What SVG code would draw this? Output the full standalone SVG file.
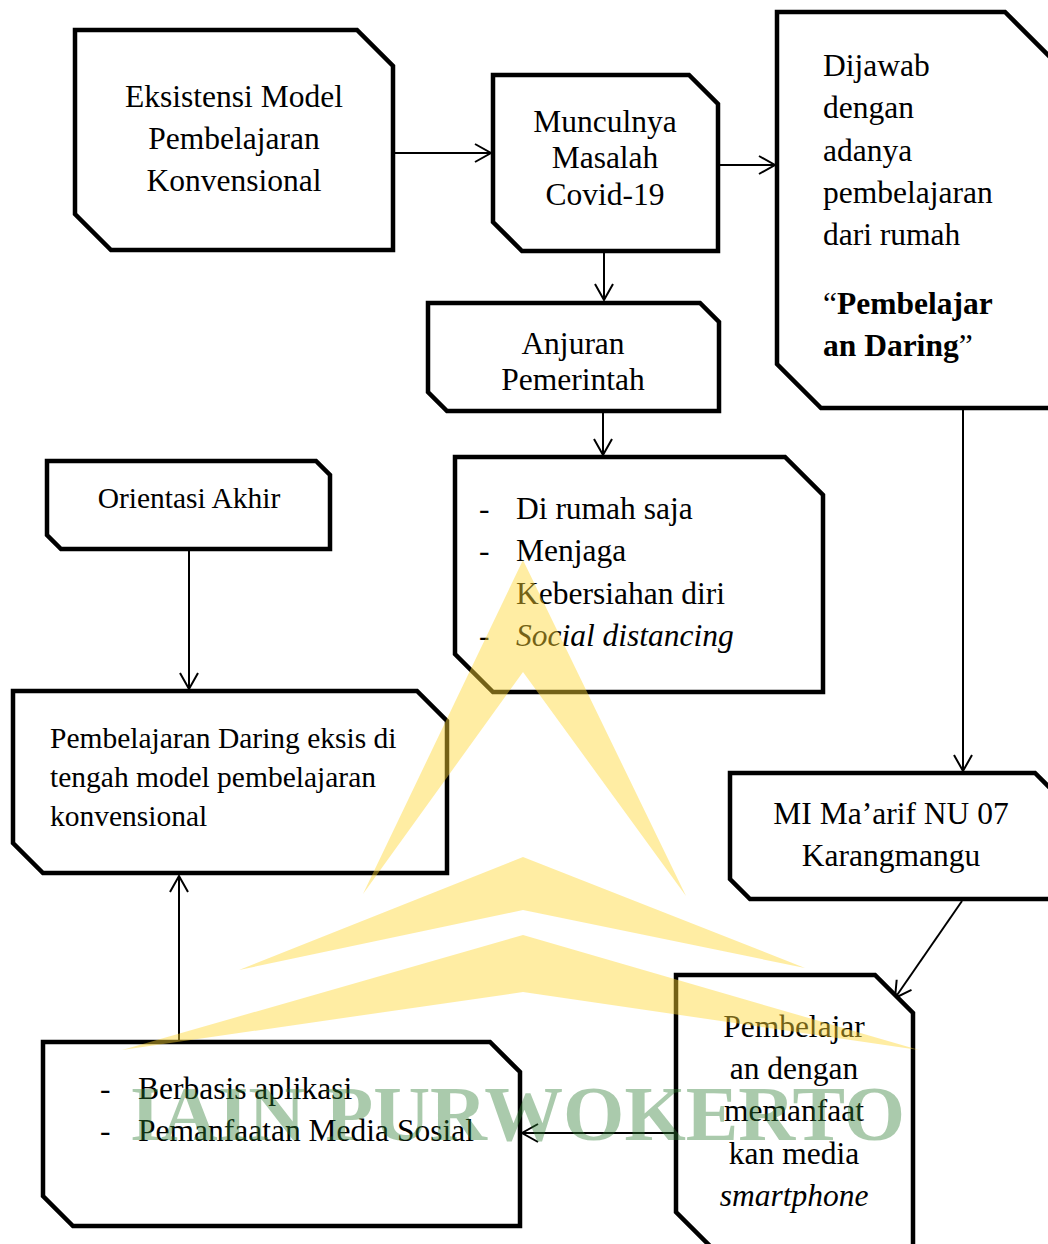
<svg xmlns="http://www.w3.org/2000/svg" width="1048" height="1244" viewBox="0 0 1048 1244">
<style>
.box{fill:#fff;stroke:#000;stroke-width:4.5;stroke-linejoin:miter}
.t{font-family:"Liberation Serif","Times New Roman",serif;font-size:31.5px;fill:#000}
.s{font-size:29.5px}
.c{text-anchor:middle}
.b{font-weight:bold}
.i{font-style:italic}
.edge{fill:none;stroke:#000;stroke-width:2}
.wm{fill:#FFD633;opacity:0.45}
.wmt{font-family:"Liberation Serif","Times New Roman",serif;font-weight:bold;font-size:78px;fill:#2E7D32;opacity:0.4}
</style>
<defs>
<marker id="arr" markerUnits="userSpaceOnUse" markerWidth="24" markerHeight="24" viewBox="-20 -12 24 24" refX="0" refY="0" orient="auto">
<path d="M-16,-9 L0,0 L-16,9" fill="none" stroke="#000" stroke-width="2"/>
</marker>
</defs>
<rect width="1048" height="1244" fill="#fff"/>
<g id="connectors">
<line class="edge" x1="395" y1="153" x2="491" y2="153" marker-end="url(#arr)"/>
<line class="edge" x1="720" y1="165" x2="775" y2="165" marker-end="url(#arr)"/>
<line class="edge" x1="604" y1="253" x2="604" y2="300" marker-end="url(#arr)"/>
<line class="edge" x1="603" y1="413" x2="603" y2="455" marker-end="url(#arr)"/>
<line class="edge" x1="963" y1="410" x2="963" y2="771" marker-end="url(#arr)"/>
<line class="edge" x1="189" y1="551" x2="189" y2="689" marker-end="url(#arr)"/>
<line class="edge" x1="962" y1="901" x2="895" y2="998" marker-end="url(#arr)"/>
<line class="edge" x1="674" y1="1133" x2="522" y2="1133" marker-end="url(#arr)"/>
<line class="edge" x1="179" y1="1040" x2="179" y2="876" marker-end="url(#arr)"/>
</g>
<g id="n-eksistensi">
<path class="box" d="M75,30 H357 L393,66 V250 H111 L75,214 Z"/>
<text class="t c" x="234" y="107">Eksistensi Model</text>
<text class="t c" x="234" y="149">Pembelajaran</text>
<text class="t c" x="234" y="191">Konvensional</text>
</g>
<g id="n-munculnya">
<path class="box" d="M493,75 H689 L718,104 V251 H522 L493,222 Z"/>
<text class="t c" x="605" y="132">Munculnya</text>
<text class="t c" x="605" y="168">Masalah</text>
<text class="t c" x="605" y="205">Covid-19</text>
</g>
<g id="n-dijawab">
<path class="box" d="M777,12 H1005 L1060,67 V408 H821 L777,364 Z"/>
<text class="t" x="823" y="76">Dijawab</text>
<text class="t" x="823" y="118">dengan</text>
<text class="t" x="823" y="161">adanya</text>
<text class="t" x="823" y="203">pembelajaran</text>
<text class="t" x="823" y="245">dari rumah</text>
<text class="t" x="823" y="314">“<tspan class="b">Pembelajar</tspan></text>
<text class="t" x="823" y="356"><tspan class="b">an Daring</tspan>”</text>
</g>
<g id="n-anjuran">
<path class="box" d="M428,303 H700 L719,322 V411 H447 L428,392 Z"/>
<text class="t c" x="573" y="354">Anjuran</text>
<text class="t c" x="573" y="390">Pemerintah</text>
</g>
<g id="n-dirumah">
<path class="box" d="M455,457 H785 L823,495 V692 H493 L455,654 Z"/>
<text class="t" x="479" y="519">-</text>
<text class="t" x="516" y="519">Di rumah saja</text>
<text class="t" x="479" y="561">-</text>
<text class="t" x="516" y="561">Menjaga</text>
<text class="t" x="516" y="604">Kebersiahan diri</text>
<text class="t" x="479" y="646">-</text>
<text class="t i" x="516" y="646">Social distancing</text>
</g>
<g id="n-orientasi">
<path class="box" d="M47,461 H316 L330,475 V549 H61 L47,535 Z"/>
<text class="t s c" x="189" y="508">Orientasi Akhir</text>
</g>
<g id="n-daring">
<path class="box" d="M13,691 H417 L447,721 V873 H43 L13,843 Z"/>
<text class="t s" x="50" y="748">Pembelajaran Daring eksis di</text>
<text class="t s" x="50" y="787">tengah model pembelajaran</text>
<text class="t s" x="50" y="826">konvensional</text>
</g>
<g id="n-mi">
<path class="box" d="M730,773 H1035 L1060,798 V899 H750 L730,879 Z"/>
<text class="t c" x="891" y="824">MI Ma’arif NU 07</text>
<text class="t c" x="891" y="866">Karangmangu</text>
</g>
<g id="n-smartphone">
<path class="box" d="M676,975 H875 L913,1013 V1252 H716 L676,1212 Z"/>
<text class="t c" x="794" y="1037">Pembelajar</text>
<text class="t c" x="794" y="1079">an dengan</text>
<text class="t c" x="794" y="1121">memanfaat</text>
<text class="t c" x="794" y="1164">kan media</text>
<text class="t c i" x="794" y="1206">smartphone</text>
</g>
<g id="n-berbasis">
<path class="box" d="M43,1042 H490 L520,1072 V1226 H73 L43,1196 Z"/>
<text class="t" x="100" y="1099">-</text>
<text class="t" x="138" y="1099">Berbasis aplikasi</text>
<text class="t" x="100" y="1141">-</text>
<text class="t" x="138" y="1141">Pemanfaatan Media Sosial</text>
</g>
<g id="watermark">
<polygon class="wm" points="523,560 686,896 523,672 363,894"/>
<polygon class="wm" points="523,857 805,968 523,910 239,970"/>
<polygon class="wm" points="523,935 919,1050 523,992 122,1050"/>
<text class="wmt" x="130" y="1140" textLength="775" lengthAdjust="spacingAndGlyphs">IAIN PURWOKERTO</text>
</g>
</svg>
